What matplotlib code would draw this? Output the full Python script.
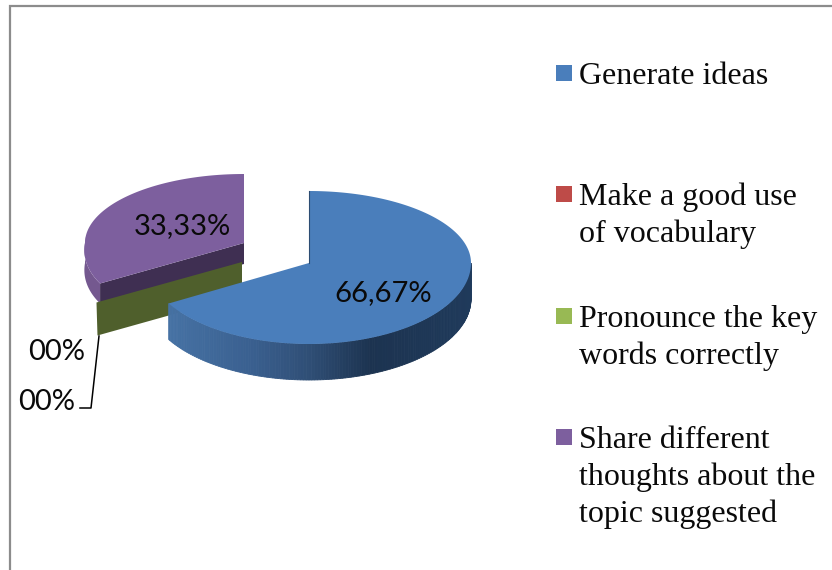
import numpy as np
import matplotlib
matplotlib.use('Agg')
import matplotlib.pyplot as plt
from matplotlib.patches import Rectangle

# Data
categories = ['Generate ideas', 'Make a good use\nof vocabulary',
              'Pronounce the key\nwords correctly',
              'Share different\nthoughts about the\ntopic suggested']
values = [66.67, 0, 0, 33.33]
value_labels = ['66,67%', '00%', '00%', '33,33%']

colors = ['#4a7ebb', '#be4b48', '#98b954', '#7d5f9e']

# angles of the slices, clockwise from the top
edges = np.concatenate([[0], np.cumsum(values)]) / sum(values) * 360

fig = plt.figure(figsize=(8.32, 5.7), dpi=100)
ax = fig.add_axes([0, 0, 1, 1])
ax.set_xlim(0, 832)
ax.set_ylim(570, 0)
ax.axis('off')


# Point on the squashed pie (the front half looks bigger than the back)
def rim(cx, cy, a, start, end, n=120, back=72, flare=0):
    t = np.radians(np.linspace(start, end, n))
    c = np.cos(t)
    wide = 1 + flare * np.maximum(-c, 0)
    return cx + a * wide * np.sin(t), cy - np.where(c > 0, back, 81) * c


# Chart frame
ax.plot([10, 10, 832], [570, 6, 6], color='#8c8c8c', lw=1.6, solid_joinstyle='miter')

# Purple slice (pulled out)
pcx, pcy = 244, 243
x, y = rim(pcx, pcy, 159, edges[3], 275, flare=0.09)
ax.fill(np.r_[x, x[::-1]], np.r_[y, y[::-1] + 20], color='#74588f', lw=0)
x0, y0 = rim(pcx, pcy, 159, edges[3], edges[3], 1, flare=0.09)
ax.fill([pcx, x0[0], x0[0], pcx], [pcy, y0[0], y0[0] + 21, pcy + 21], color='#3f2f52', lw=0)
x, y = rim(pcx, pcy, 159, edges[3], edges[4], back=69, flare=0.09)
ax.fill(np.r_[pcx, x], np.r_[pcy, y], color=colors[3], lw=0)

# Green wall of the empty slices
gcx, gcy = 242, 262
x0, y0 = rim(gcx, gcy, 168, edges[3], edges[3], 1)
ax.fill([gcx, x0[0], x0[0] + 1, gcx], [gcy, y0[0], y0[0] + 33, gcy + 33], color='#4f5f2c', lw=0)

# Blue slice, wall in strips for the shading
bcx, bcy = 309, 263
depth = 36
tt = np.linspace(90, edges[1], 151)
shade_x = [168, 250, 310, 370, 471]
shade_r = [0x46, 0x3a, 0x2f, 0x1c, 0x1f]
shade_g = [0x72, 0x60, 0x4e, 0x33, 0x3a]
shade_b = [0xa4, 0x90, 0x75, 0x50, 0x5b]
for t0, t1 in zip(tt[:-1], tt[1:]):
    x, y = rim(bcx, bcy, 162, t0, t1, 2)
    xm = x.mean()
    col = (np.interp(xm, shade_x, shade_r) / 255,
           np.interp(xm, shade_x, shade_g) / 255,
           np.interp(xm, shade_x, shade_b) / 255)
    ax.fill(np.r_[x, x[::-1]], np.r_[y, y[::-1] + depth], color=col, ec=col, lw=0.6)
ax.plot([bcx, bcx], [bcy - 72, bcy], color='#2c4c72', lw=0.8)
x, y = rim(bcx, bcy, 162, edges[0], edges[1], 240)
ax.fill(np.r_[bcx, x], np.r_[bcy, y], color=colors[0], lw=0)

# Value labels
lab_font = dict(family='Lato', size=21, color='#0a0a0a', ha='center', va='center')
ax.text(383, 293, value_labels[0], **lab_font)
ax.text(182, 226, value_labels[3], **lab_font)
ax.text(57, 352, value_labels[1], **lab_font)
ax.text(47, 402, value_labels[2], **lab_font)
ax.plot([99, 91, 80], [336, 408, 408], color='black', lw=1.1)

# Legend
legend_y = [73, 194, 316, 437]
for name, col, ly in zip(categories, colors, legend_y):
    ax.add_patch(Rectangle((556, ly - 8), 16, 16, color=col, lw=0))
    for i, line in enumerate(name.split('\n')):
        ax.text(579, ly + 3 + i * 37, line, family='Liberation Serif', size=23,
                color='#0a0a0a', ha='left', va='center')

fig.savefig('out.png', dpi=100)
plt.close()
